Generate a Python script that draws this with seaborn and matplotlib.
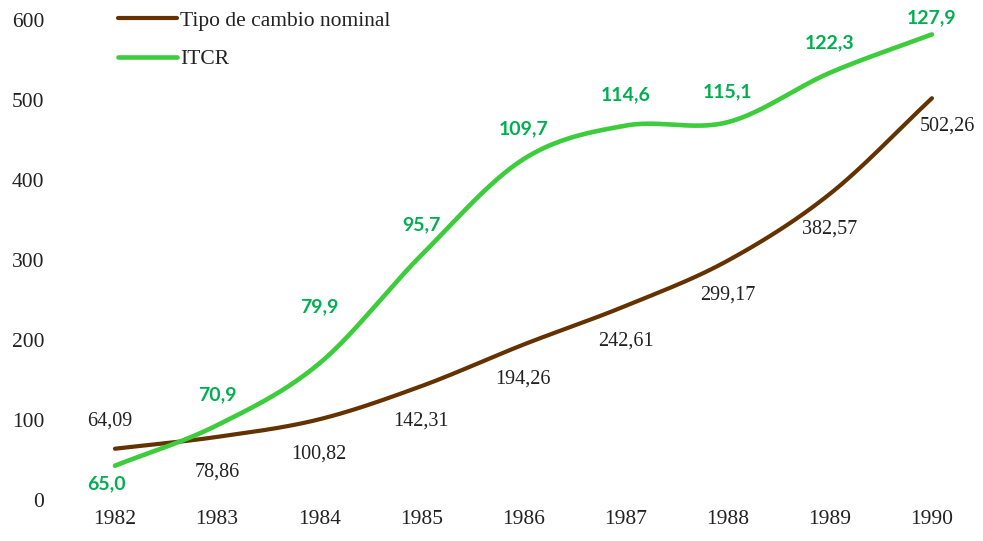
import numpy as np
import pandas as pd
import seaborn as sns
import matplotlib
matplotlib.use('Agg')
import matplotlib.pyplot as plt

sns.set_theme(style='white')
plt.rcParams['font.family'] = ['Liberation Serif', 'DejaVu Serif']

# datos
anios = [1982, 1983, 1984, 1985, 1986, 1987, 1988, 1989, 1990]
tc_nominal = [64.09, 78.86, 100.82, 142.31, 194.26, 242.61, 299.17, 382.57, 502.26]
itcr = [65.0, 70.9, 79.9, 95.7, 109.7, 114.6, 115.1, 122.3, 127.9]

etiquetas_tc = ['64,09', '78,86', '100,82', '142,31', '194,26', '242,61', '299,17', '382,57', '502,26']
etiquetas_itcr = ['65,0', '70,9', '79,9', '95,7', '109,7', '114,6', '115,1', '122,3', '127,9']

marron = '#633200'
verde = '#3ccc3c'
verde_txt = '#00b050'


def suavizar(x, y, n=40):
    # curva suavizada tipo Excel (Catmull-Rom)
    x = np.asarray(x, float)
    y = np.asarray(y, float)
    px = np.concatenate([[2 * x[0] - x[1]], x, [2 * x[-1] - x[-2]]])
    py = np.concatenate([[2 * y[0] - y[1]], y, [2 * y[-1] - y[-2]]])
    xs, ys = [], []
    for i in range(1, len(px) - 2):
        t = np.linspace(0, 1, n, endpoint=(i == len(px) - 3))
        for p, out in ((px, xs), (py, ys)):
            p0, p1, p2, p3 = p[i - 1], p[i], p[i + 1], p[i + 2]
            out.extend(0.5 * (2 * p1 + (-p0 + p2) * t + (2 * p0 - 5 * p1 + 4 * p2 - p3) * t ** 2
                              + (-p0 + 3 * p1 - 3 * p2 + p3) * t ** 3))
    return pd.DataFrame({'x': xs, 'y': ys})


fig = plt.figure(figsize=(9.83, 5.41), dpi=100)
ax = fig.add_axes([0.065, 0.0758, 0.935, 0.8872])
ax2 = ax.twinx()

df_tc = suavizar(anios, tc_nominal)
df_it = suavizar(anios, itcr)

sns.lineplot(data=df_tc, x='x', y='y', sort=False, ax=ax, color=marron, lw=3,
             label='Tipo de cambio nominal', legend=False)
sns.lineplot(data=df_it, x='x', y='y', sort=False, ax=ax2, color=verde, lw=3.3,
             label='ITCR', legend=False)

ax.set_xlim(1981.5, 1990.5)
ax.set_ylim(0, 600)
ax2.set_ylim(60, 130)
ax.set_xticks(anios)
ax.set_xticklabels([str(a) for a in anios])
ax.set_yticks(range(0, 601, 100))
ax.set_xlabel('')
ax.set_ylabel('')
ax2.set_ylabel('')
ax2.set_yticks([])
ax.tick_params(axis='both', length=0, labelsize=15.5, colors='#222222')
ax.tick_params(axis='y', pad=14)
ax.tick_params(axis='x', pad=7)
for a in (ax, ax2):
    for s in a.spines.values():
        s.set_visible(False)

# etiquetas nominal
for i, (x, y, t) in enumerate(zip(anios, tc_nominal, etiquetas_tc)):
    if i == 0:
        off, ha = (-4, 20), 'center'
    elif i == len(anios) - 1:
        off, ha = (-9, -20), 'left'
    else:
        off, ha = (0, -25), 'center'
    ax.annotate(t, (x, y), xytext=off, textcoords='offset points', ha=ha, va='center',
                fontsize=14.5, color='#222222', annotation_clip=False)

# etiquetas ITCR
for i, (x, y, t) in enumerate(zip(anios, itcr, etiquetas_itcr)):
    if i == 0:
        off = (-6, -13)
    elif i == 2:
        off = (0, 41)
    elif i == len(anios) - 1:
        off = (0, 12)
    else:
        off = (0, 22)
    ax2.annotate(t, (x, y), xytext=off, textcoords='offset points', ha='center', va='center',
                 fontsize=14, color=verde_txt, fontweight='bold', family=['Lato', 'DejaVu Sans'])

h1, l1 = ax.get_legend_handles_labels()
h2, l2 = ax2.get_legend_handles_labels()
fig.legend(h1 + h2, l1 + l2, loc='upper left', bbox_to_anchor=(0.1, 1.016), frameon=False,
           fontsize=15.5, handlelength=2.75, handletextpad=0.15, labelspacing=0.85,
           labelcolor='#222222')

fig.savefig('out.png', dpi=100)
